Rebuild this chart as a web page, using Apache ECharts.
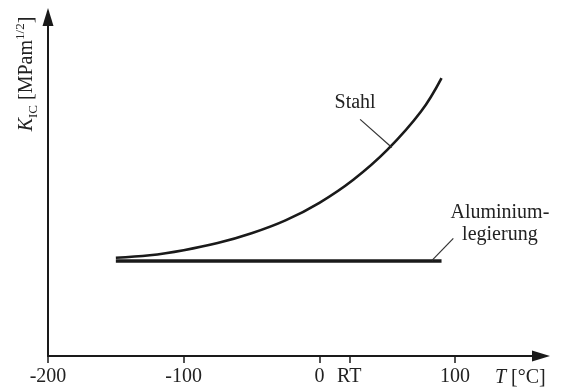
<!DOCTYPE html>
<html>
<head>
<meta charset="utf-8">
<script src="https://cdn.jsdelivr.net/npm/echarts@6/dist/echarts.min.js"></script>
<style>
  html, body { margin: 0; padding: 0; background: #fff; }
  #chart { width: 561px; height: 389px; }
</style>
</head>
<body>
<div id="chart"></div>
<script>
// K_IC over temperature: steel (ductile-brittle transition) vs aluminium alloy
const stahlT = [-150, -125, -100, -75, -50, -25, 0, 25, 50, 75, 90];
const stahlK = [29.0, 29.7, 31.2, 33.3, 36.2, 40.0, 45.2, 52.0, 60.8, 72.2, 82.0];
const alT = [-150, 90];
const alK = [28, 28];

// tick values on the T axis, RT sits at ~22 °C
const tickValues = [-200, -100, 0, 22, 100];
const tickLabels = ['-200', '-100', '0', 'RT', '100'];

// annotation anchors (data coords)
const stahlLeader = [[30, 69.8], [53.4, 61.5]];
const stahlLabelAt = [26.3, 74.6];
const alLeader = [[83, 28.2], [98.7, 34.7]];
const alLabelAt = [133, 39.0];

const FONT = '"Liberation Serif", "DejaVu Serif", serif';
const INK = '#1a1a1a';
const TEXT = '#222';

const chart = echarts.init(document.getElementById('chart'));

const axisLine = {
  show: true, onZero: false,
  symbol: ['none', 'triangle'], symbolSize: [11, 18],
  lineStyle: { color: INK, width: 2 },
};

const leader = (pts) => ({
  silent: true, symbol: ['none', 'none'],
  label: { show: false },
  lineStyle: { color: '#333', width: 1.2, type: 'solid' },
  emphasis: { disabled: true },
  data: [[{ coord: pts[0] }, { coord: pts[1] }]],
});

const textMark = (at, text) => ({
  silent: true, symbol: 'circle', symbolSize: 0,
  label: {
    show: true, position: 'inside', formatter: text,
    color: TEXT, fontFamily: FONT, fontSize: 20, lineHeight: 22,
  },
  data: [{ coord: at }],
});

chart.setOption({
  animation: false,
  backgroundColor: '#fff',
  grid: { left: 48, right: 20, top: 17, bottom: 33 },
  xAxis: {
    type: 'value', min: -200, max: 163.3,
    axisLine,
    axisTick: { show: true, length: 7, customValues: tickValues, lineStyle: { color: INK, width: 1.5 } },
    axisLabel: {
      customValues: tickValues, margin: 11,
      formatter: v => tickLabels[tickValues.indexOf(v)] ?? '',
      color: TEXT, fontFamily: FONT, fontSize: 20,
    },
    splitLine: { show: false },
  },
  yAxis: {
    type: 'value', min: 0, max: 100,
    axisLine,
    axisTick: { show: false },
    axisLabel: { show: false },
    splitLine: { show: false },
  },
  graphic: [
    {
      type: 'text', x: 27, y: 74, rotation: Math.PI / 2,
      style: {
        text: '{k|K}{s|IC}{n| [MPam}{p|1/2}{n|]}',
        align: 'center', verticalAlign: 'middle',
        textAlign: 'center', textVerticalAlign: 'middle',
        fill: TEXT, font: '20px ' + FONT,
        rich: {
          k: { fontFamily: FONT, fontStyle: 'italic', fontSize: 20, lineHeight: 26, verticalAlign: 'middle', fill: TEXT },
          s: { fontFamily: FONT, fontSize: 13, lineHeight: 13, verticalAlign: 'bottom', fill: TEXT },
          n: { fontFamily: FONT, fontSize: 20, lineHeight: 26, verticalAlign: 'middle', fill: TEXT },
          p: { fontFamily: FONT, fontSize: 13, lineHeight: 13, verticalAlign: 'top', fill: TEXT },
        },
      },
    },
    {
      type: 'text', x: 495, y: 378,
      style: {
        text: '{i|T}{n| [°C]}',
        align: 'left', verticalAlign: 'middle',
        textAlign: 'left', textVerticalAlign: 'middle',
        fill: TEXT, font: '20px ' + FONT,
        rich: {
          i: { fontFamily: FONT, fontStyle: 'italic', fontSize: 20, fill: TEXT },
          n: { fontFamily: FONT, fontSize: 20, fill: TEXT },
        },
      },
    },
  ],
  series: [
    {
      name: 'Stahl', type: 'line',
      data: stahlT.map((t, i) => [t, stahlK[i]]),
      smooth: 0.4, symbol: 'none',
      lineStyle: { color: INK, width: 2.6 },
      markLine: leader(stahlLeader),
      markPoint: textMark(stahlLabelAt, 'Stahl'),
    },
    {
      name: 'Aluminiumlegierung', type: 'line',
      data: alT.map((t, i) => [t, alK[i]]),
      symbol: 'none',
      lineStyle: { color: INK, width: 3.5 },
      markLine: leader(alLeader),
      markPoint: textMark(alLabelAt, 'Aluminium-\nlegierung'),
    },
  ],
});
</script>
</body>
</html>
